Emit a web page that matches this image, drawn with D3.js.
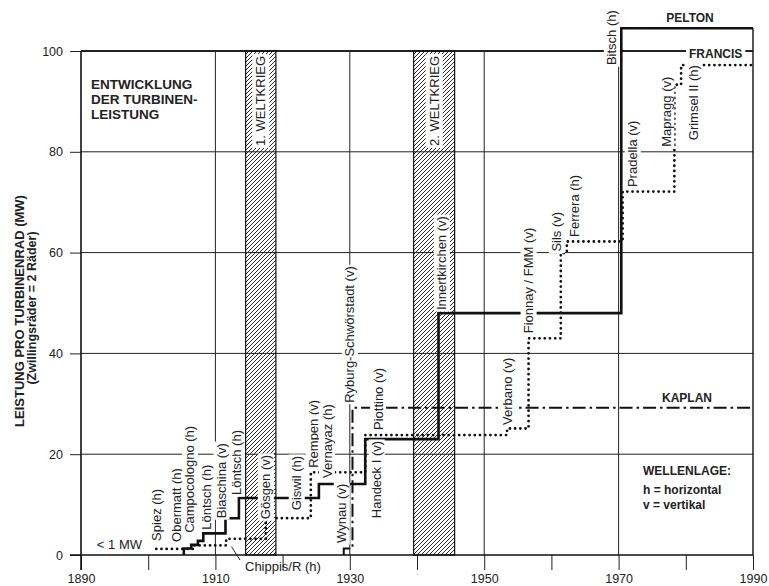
<!DOCTYPE html>
<html>
<head>
<meta charset="utf-8">
<script src="https://cdn.jsdelivr.net/npm/d3@7"></script>
<style>
  body { margin: 0; background: #fff; }
  text { font-family: "Liberation Sans", Arial, sans-serif; fill: #222; }
</style>
</head>
<body>
<svg id="chart" width="769" height="586"></svg>
<script>

// ---- data ----
var peltonYears  = [1905.3, 1905.3, 1906.4, 1907.4, 1908.2, 1911.5, 1913.5, 1925.4, 1932.3, 1943.2, 1970.4, 1990];
var peltonMW     = [0, 1.3, 2.0, 2.8, 4.3, 7.3, 11.3, 14.1, 23.0, 48.0, 104.5, 104.5];

var francisYears = [1901.2, 1906.8, 1911.6, 1917.5, 1924.2, 1932.3, 1953.4, 1956.6, 1961.4, 1962.3, 1970.6, 1978.3, 1979.3, 1990];
var francisMW    = [1.2, 1.9, 3.2, 7.3, 16.4, 23.8, 25.1, 43.0, 59.9, 62.2, 72.1, 93.3, 97.2, 97.2];

var kaplanYears  = [1929.1, 1929.1, 1930.4, 1990];
var kaplanMW     = [0, 1.3, 29.2, 29.2];

var warNames = ['1. WELTKRIEG', '2. WELTKRIEG'];
var warStart = [1914.5, 1939.5];
var warEnd   = [1919.0, 1945.6];

// power stations: name, year, MW where the label starts
var stationNames = ['Spiez (h)', 'Obermatt (h)', 'Campocologno (h)', 'Löntsch (h)', 'Biaschina (v)', 'Löntsch (h)',
                    'Gösgen (v)', 'Giswil (h)', 'Rempen (v)', 'Vernayaz (h)', 'Wynau (v)', 'Ryburg-Schwörstadt (v)',
                    'Handeck I (v)', 'Piottino (v)', 'Innertkirchen (v)', 'Verbano (v)', 'Fionnay / FMM (v)',
                    'Sils (v)', 'Ferrera (h)', 'Bitsch (h)', 'Pradella (v)', 'Mapragg (v)', 'Grimsel II (h)'];
var stationYears = [1901.3, 1904.2, 1906.2, 1908.7, 1910.9, 1913.2,
                    1917.5, 1922.1, 1924.6, 1926.6, 1928.8, 1930.0,
                    1934.0, 1934.2, 1943.7, 1953.4, 1956.6,
                    1960.8, 1963.4, 1969.0, 1972.1, 1977.1, 1981.1];
var stationBase  = [2.8, 2.6, 4.4, 5.0, 7.3, 11.9,
                    7.1, 8.9, 17.3, 15.3, 2.4, 30.2,
                    7.3, 24.8, 48.6, 25.8, 44.0,
                    60.2, 63.1, 97.2, 73.0, 81.0, 82.3];

var xTicks      = [1890, 1900, 1910, 1920, 1930, 1940, 1950, 1960, 1970, 1980, 1990];
var xTickLabels = [1890, 1910, 1930, 1950, 1970, 1990];
var xGrid       = [1910, 1930, 1950, 1970];
var yTicks      = [0, 20, 40, 60, 80, 100];


var svg = d3.select('#chart');

var x = d3.scaleLinear().domain([1890, 1990]).range([81, 753]);
var y = d3.scaleLinear().domain([0, 100]).range([555, 51]);

// hatch for the war years
svg.append('defs').append('pattern')
   .attr('id', 'hatch')
   .attr('patternUnits', 'userSpaceOnUse')
   .attr('width', 4).attr('height', 4)
   .append('path')
   .attr('d', 'M-1,1 l2,-2 M0,4 l4,-4 M3,5 l2,-2')
   .attr('stroke', '#111')
   .attr('stroke-width', 0.9);

// grid
svg.append('g').selectAll('line.hg')
   .data(yTicks.slice(1))
   .enter().append('line')
   .attr('x1', x(1890)).attr('x2', x(1990))
   .attr('y1', function(d){ return y(d); })
   .attr('y2', function(d){ return y(d); })
   .attr('stroke', '#222')
   .attr('stroke-width', function(d){ return d === 100 ? 1.8 : 1; });

svg.append('g').selectAll('line.vg')
   .data(xGrid)
   .enter().append('line')
   .attr('x1', function(d){ return x(d); })
   .attr('x2', function(d){ return x(d); })
   .attr('y1', y(0)).attr('y2', y(100))
   .attr('stroke', '#222')
   .attr('stroke-width', 1);

// war bands
var wars = svg.append('g').selectAll('g')
   .data(warNames)
   .enter().append('g');

wars.append('rect')
    .attr('x', function(d, i){ return x(warStart[i]); })
    .attr('width', function(d, i){ return x(warEnd[i]) - x(warStart[i]); })
    .attr('y', y(100))
    .attr('height', y(0) - y(100))
    .attr('fill', 'url(#hatch)')
    .attr('stroke', '#111')
    .attr('stroke-width', 1.2);

wars.each(function(d, i){
  var g = d3.select(this).append('g')
            .attr('transform', 'translate(' + ((x(warStart[i]) + x(warEnd[i])) / 2) + ',' + 146 + ') rotate(-90)');
  boxedText(g, d, 13, 'normal', 2);
});

// axes
var yAxis = d3.axisLeft(y).tickValues(yTicks).tickSize(11).tickPadding(7);
svg.append('g')
   .attr('transform', 'translate(' + x(1890) + ',0)')
   .call(yAxis)
   .call(styleAxis);

var xAxis = d3.axisBottom(x).tickValues(xTicks).tickSize(15).tickPadding(4)
              .tickFormat(function(d){ return xTickLabels.indexOf(d) >= 0 ? d : ''; });
svg.append('g')
   .attr('transform', 'translate(0,' + y(0) + ')')
   .call(xAxis)
   .call(styleAxis);

function styleAxis(g){
  g.select('.domain').remove();
  g.selectAll('line').attr('stroke', '#222').attr('stroke-width', 1);
  g.selectAll('text').style('font-size', '12.5px').attr('fill', '#333');
}

svg.append('line')          // x axis
   .attr('x1', x(1890) - 11).attr('x2', x(1990))
   .attr('y1', y(0)).attr('y2', y(0))
   .attr('stroke', '#111').attr('stroke-width', 1.6);
svg.append('line')          // y axis
   .attr('x1', x(1890)).attr('x2', x(1890))
   .attr('y1', y(100)).attr('y2', y(0) + 15)
   .attr('stroke', '#111').attr('stroke-width', 1.6);
svg.append('line')          // right border
   .attr('x1', x(1990)).attr('x2', x(1990))
   .attr('y1', y(0)).attr('y2', y(d3.max(peltonMW)))
   .attr('stroke', '#111').attr('stroke-width', 1.4);

// series
var line = d3.line()
             .x(function(d){ return x(d[0]); })
             .y(function(d){ return y(d[1]); })
             .curve(d3.curveStepAfter);

function pairs(a, b){ return a.map(function(v, i){ return [v, b[i]]; }); }

svg.append('path')
   .attr('d', line(pairs(kaplanYears, kaplanMW)))
   .attr('fill', 'none').attr('stroke', '#111')
   .attr('stroke-width', 2)
   .attr('stroke-dasharray', '13,4,2.5,4');

svg.append('path')
   .attr('d', line(pairs(francisYears, francisMW)))
   .attr('fill', 'none').attr('stroke', '#111')
   .attr('stroke-width', 2.8)
   .attr('stroke-linecap', 'round')
   .attr('stroke-dasharray', '0.01,5.2');

svg.append('path')
   .attr('d', line(pairs(peltonYears, peltonMW)))
   .attr('fill', 'none').attr('stroke', '#111')
   .attr('stroke-width', 2.6);

// station labels, white box behind
stationNames.forEach(function(name, i){
  var g = svg.append('g')
             .attr('transform', 'translate(' + x(stationYears[i]) + ',' + y(stationBase[i]) + ') rotate(-90)');
  boxedText(g, name, 13, 'normal', 1.5);
});

function boxedText(g, str, size, weight, pad){
  var t = g.append('text')
           .attr('dy', '0.35em')
           .style('font-size', size + 'px')
           .style('font-weight', weight)
           .attr('fill', '#333')
           .text(str);
  var b = t.node().getBBox();
  g.insert('rect', 'text')
   .attr('x', b.x - pad).attr('y', b.y + 1 - pad)
   .attr('width', b.width + 2 * pad).attr('height', b.height - 2 + 2 * pad)
   .attr('fill', '#fff');
  return t;
}

// Chippis with its pointer
svg.append('line')
   .attr('x1', 240).attr('y1', 560)
   .attr('x2', x(1912.4)).attr('y2', y(1.65))
   .attr('stroke', '#222').attr('stroke-width', 1);
svg.append('text')
   .attr('x', 245).attr('y', 571)
   .style('font-size', '13px')
   .attr('fill', '#333')
   .text('Chippis/R (h)');

svg.append('text')
   .attr('x', 142).attr('y', 549)
   .attr('text-anchor', 'end')
   .style('font-size', '13px')
   .attr('fill', '#333')
   .text('< 1 MW');

// title block
var title = ['ENTWICKLUNG', 'DER TURBINEN-', 'LEISTUNG'];
svg.append('g').selectAll('text')
   .data(title)
   .enter().append('text')
   .attr('x', 91)
   .attr('y', function(d, i){ return 88.5 + i * 15; })
   .style('font-size', '13.5px').style('font-weight', 'bold')
   .attr('fill', '#111')
   .text(function(d){ return d; });

// series names
svg.append('text')
   .attr('x', 690).attr('y', 22)
   .attr('text-anchor', 'middle')
   .style('font-size', '12px').style('font-weight', 'bold')
   .attr('fill', '#111')
   .text('PELTON');

var fr = svg.append('g').attr('transform', 'translate(689,54)');
boxedText(fr, 'FRANCIS', 12, 'bold', 3).attr('fill', '#111');

svg.append('text')
   .attr('x', 687).attr('y', 401.5)
   .attr('text-anchor', 'middle')
   .style('font-size', '12px').style('font-weight', 'bold')
   .attr('fill', '#111')
   .text('KAPLAN');

// legend for shaft position
var legend = ['WELLENLAGE:', 'h = horizontal', 'v = vertikal'];
var legendY = [474.5, 493.5, 508.5];
svg.append('g').selectAll('text')
   .data(legend)
   .enter().append('text')
   .attr('x', 643)
   .attr('y', function(d, i){ return legendY[i]; })
   .style('font-size', '12px').style('font-weight', 'bold')
   .attr('fill', '#111')
   .text(function(d){ return d; });

// y axis title
svg.append('text')
   .attr('transform', 'translate(19,311) rotate(-90)')
   .attr('dy', '0.35em')
   .attr('text-anchor', 'middle')
   .style('font-size', '13px').style('font-weight', 'bold')
   .attr('fill', '#111')
   .text('LEISTUNG PRO TURBINENRAD (MW)');
svg.append('text')
   .attr('transform', 'translate(32,308) rotate(-90)')
   .attr('dy', '0.35em')
   .attr('text-anchor', 'middle')
   .style('font-size', '12.5px').style('font-weight', 'bold')
   .attr('fill', '#222')
   .text('(Zwillingsräder = 2 Räder)');

</script>
</body>
</html>
